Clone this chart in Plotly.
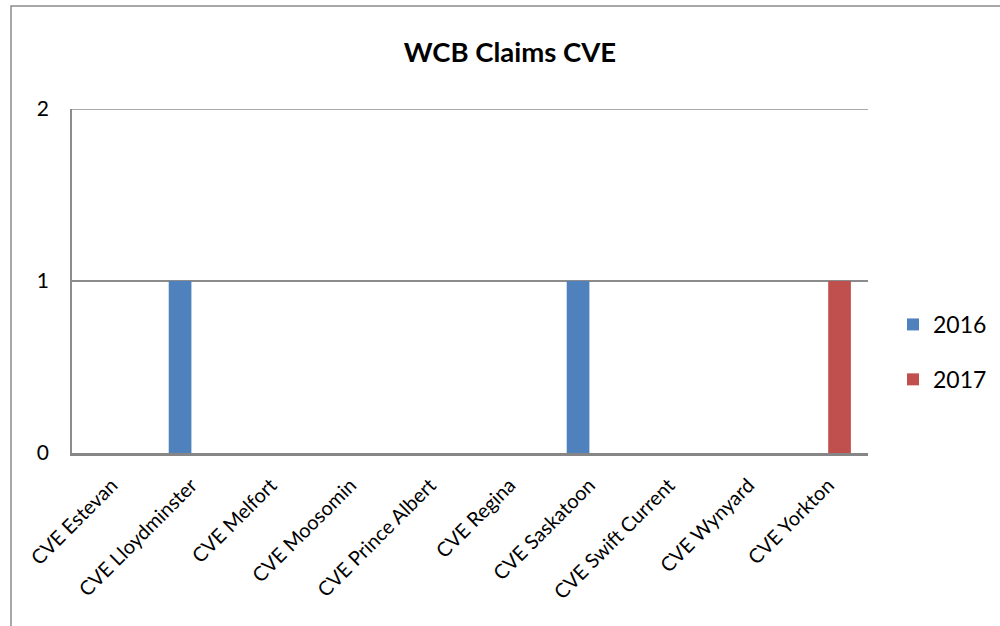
import plotly.graph_objects as go

categories = ["CVE Estevan", "CVE Lloydminster", "CVE Melfort", "CVE Moosomin",
              "CVE Prince Albert", "CVE Regina", "CVE Saskatoon", "CVE Swift Current",
              "CVE Wynyard", "CVE Yorkton"]
claims_2016 = [0, 1, 0, 0, 0, 0, 1, 0, 0, 0]
claims_2017 = [0, 0, 0, 0, 0, 0, 0, 0, 0, 1]
y_ticks = [0, 1, 2]

FONT = "Lato"

fig = go.Figure()
fig.add_trace(go.Bar(x=categories, y=claims_2016, name="2016",
                     marker=dict(color="#4F81BD", line=dict(width=0)),
                     legendgroup="a"))
fig.add_trace(go.Bar(x=categories, y=claims_2017, name="2017",
                     marker=dict(color="#C0504D", line=dict(width=0)),
                     legendgroup="b"))

W, H = 1000, 626
L, R, T, B = 72, 868, 109, 453

def px(x):
    return (x - L) / (R - L)

def py(y):
    return (B - y) / (B - T)

fig.update_layout(
    width=W, height=H,
    margin=dict(l=L, r=W - R, t=T, b=H - B, autoexpand=False),
    paper_bgcolor="white", plot_bgcolor="white",
    barmode="group", bargap=0.43, bargroupgap=0,
    font=dict(family=FONT, color="black"),
    title=dict(text="<b>WCB Claims CVE</b>", x=510 / W, xref="container",
               xanchor="center", y=1 - 52 / H, yanchor="middle",
               font=dict(family=FONT, size=27.5, color="black")),
    showlegend=True,
    legend=dict(x=px(893), y=py(352), xanchor="left", yanchor="middle",
                font=dict(family=FONT, size=23, color="black"),
                tracegroupgap=22, traceorder="grouped", bgcolor="rgba(0,0,0,0)"),
    xaxis=dict(showgrid=False, showline=True, linecolor="#868686", linewidth=2.5,
               ticks="", tickangle=-45, ticklabelstandoff=10,
               tickfont=dict(family=FONT, size=20, color="black"),
               zeroline=False),
    yaxis=dict(range=[0, 2], tickvals=y_ticks, showgrid=True, gridcolor="#8c8c8c",
               gridwidth=1.5, showline=True, linecolor="#8c8c8c", linewidth=1.5,
               ticks="", ticklabelstandoff=17, zeroline=False,
               tickfont=dict(family=FONT, size=21, color="black")),
)

# top gridline at the highest tick (plotly hides grid at the range edge)
fig.add_shape(type="line", xref="paper", yref="y", x0=0, x1=1,
              y0=y_ticks[-1], y1=y_ticks[-1],
              line=dict(color="#8c8c8c", width=1.5))

# outer chart frame (left and top edges visible)
fig.add_shape(type="path", xref="paper", yref="paper",
              path=f"M {px(11)} {py(640)} L {px(11)} {py(6)} L {px(1010)} {py(6)}",
              line=dict(color="#8c8c8c", width=1.5))

fig.write_html("out.html", config={"displayModeBar": False},
               post_script="document.body.style.margin='0';document.body.style.overflow='hidden';")
